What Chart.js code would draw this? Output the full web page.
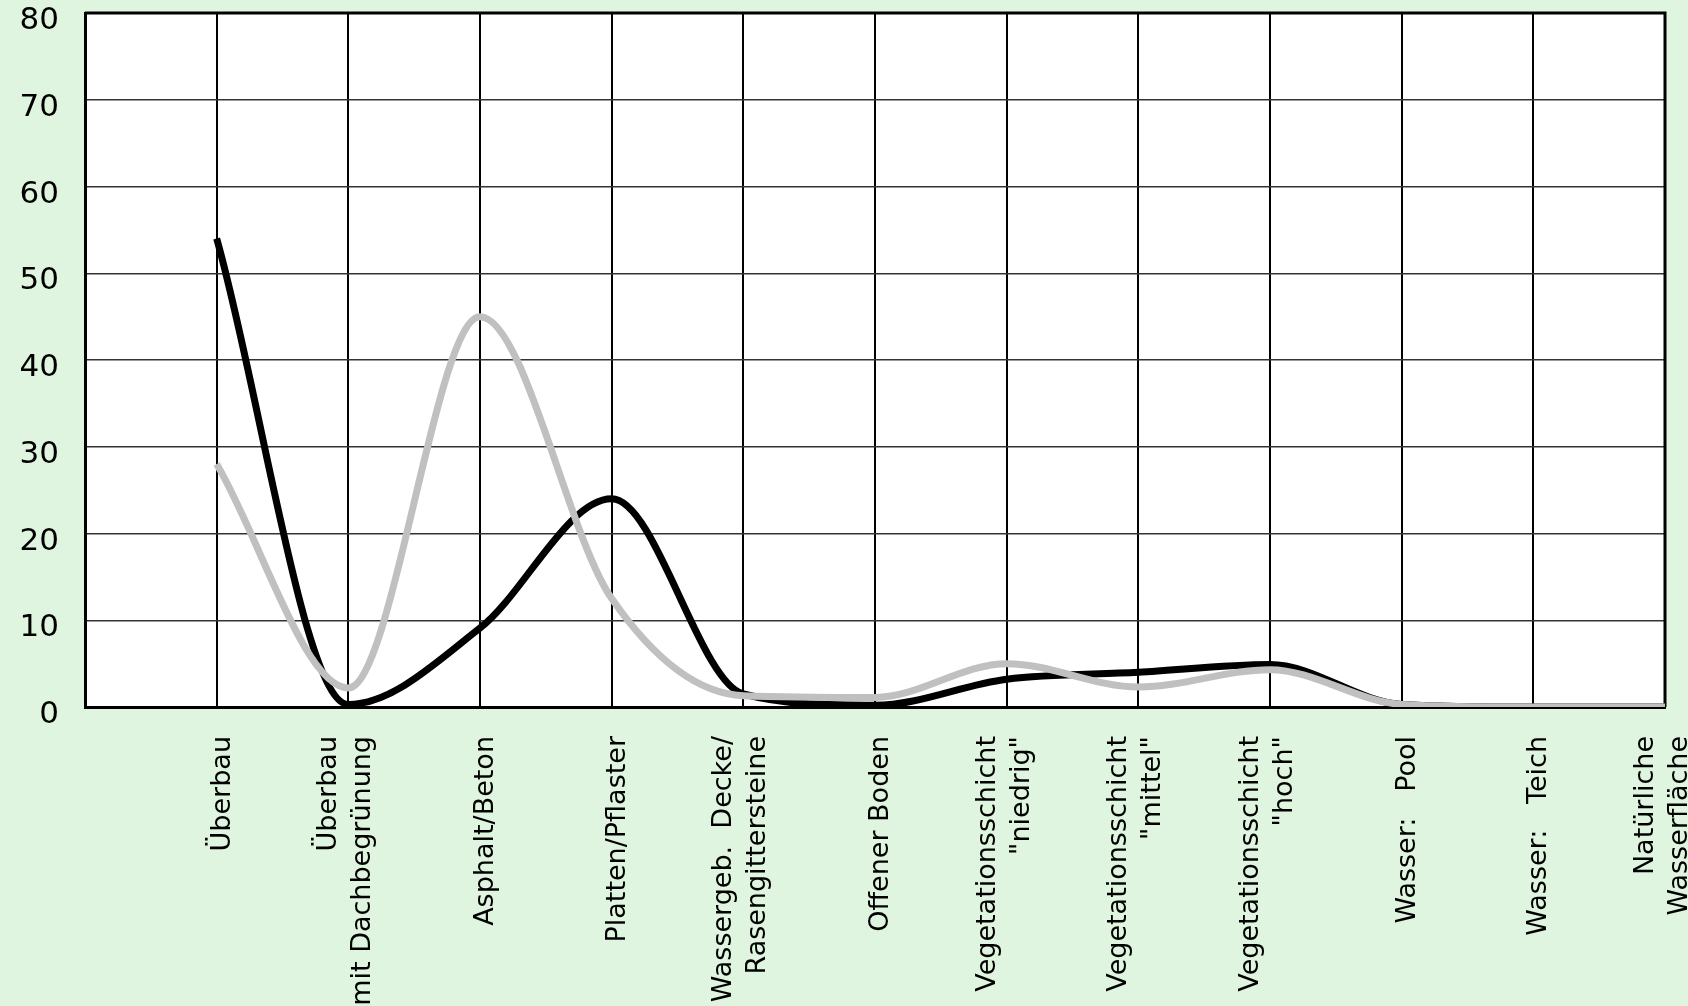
<!DOCTYPE html>
<html>
<head>
<meta charset="utf-8">
<script src="https://cdn.jsdelivr.net/npm/chart.js@4.4.0/dist/chart.umd.min.js"></script>
<style>
  html, body { margin: 0; padding: 0; background: #dff5df; }
  #wrap { width: 1688px; height: 1006px; position: relative; }
</style>
</head>
<body>
<div id="wrap"><canvas id="chart"></canvas></div>
<script>
// categories (first slot is empty: it sits on the left border)
const categories = [
  "",
  "Überbau",
  ["Überbau", "mit Dachbegrünung"],
  "Asphalt/Beton",
  "Platten/Pflaster",
  ["Wassergeb.  Decke/", "Rasengittersteine"],
  "Offener Boden",
  ["Vegetationsschicht", "\"niedrig\""],
  ["Vegetationsschicht", "\"mittel\""],
  ["Vegetationsschicht", "\"hoch\""],
  "Wasser:   Pool",
  "Wasser:   Teich",
  ["Natürliche", "Wasserfläche"]
];

// series values
const blackValues = [null, 54, 0.3, 9.1, 24, 1.5, 0.2, 3.2, 4.0, 4.9, 0.3, 0, 0];
const greyValues  = [null, 28, 2.2, 45, 12.5, 1.3, 1.1, 5.0, 2.3, 4.3, 0.3, 0, 0];

// y axis
const yMin = 0;
const yMax = 80;
const yStep = 10;

// white plot area + frame on top and right
const plotFrame = {
  id: "plotFrame",
  beforeDraw(chart) {
    const { ctx, chartArea: a } = chart;
    ctx.save();
    ctx.fillStyle = "#ffffff";
    ctx.fillRect(a.left, a.top, a.right - a.left, a.bottom - a.top);
    ctx.restore();
    // centre two-line labels on their tick, nudge single ones a bit right
    const items = chart.scales.x.getLabelItems(a);
    items.forEach((item) => {
      if (item._moved) return;
      const lines = Array.isArray(item.label) ? item.label.length : 1;
      const lh = item.font.lineHeight;
      item.options.translation[0] += lines > 1 ? -lh / 2 - 2 : 6;
      item._moved = true;
    });
  },
  beforeDatasetsDraw(chart) {
    const { ctx, chartArea: a } = chart;
    ctx.save();
    ctx.strokeStyle = "#000";
    ctx.lineWidth = 3;
    ctx.beginPath();
    ctx.moveTo(a.left, a.top);
    ctx.lineTo(a.right, a.top);
    ctx.lineTo(a.right, a.bottom);
    ctx.stroke();
    ctx.restore();
  }
};

const ctx = document.getElementById("chart").getContext("2d");

new Chart(ctx, {
  type: "line",
  data: {
    labels: categories,
    datasets: [
      {
        data: greyValues,
        borderColor: "#c0c0c0",
        borderWidth: 7,
        pointRadius: 0,
        cubicInterpolationMode: "monotone",
        fill: false
      },
      {
        data: blackValues,
        borderColor: "#000000",
        borderWidth: 7,
        pointRadius: 0,
        cubicInterpolationMode: "monotone",
        fill: false
      }
    ]
  },
  options: {
    responsive: true,
    maintainAspectRatio: false,
    animation: false,
    devicePixelRatio: 1,
    layout: { padding: { top: 13, right: 23, left: 0, bottom: 0 } },
    elements: { line: { capBezierPoints: false } },
    plugins: {
      legend: { display: false },
      tooltip: { enabled: false }
    },
    scales: {
      x: {
        offset: false,
        grid: { color: "#000", lineWidth: 2, drawTicks: false },
        border: { color: "#000", width: 3 },
        ticks: {
          autoSkip: false,
          minRotation: 90,
          maxRotation: 90,
          padding: 29,
          color: "#000",
          font: { family: "DejaVu Sans", size: 27, lineHeight: 1.25 }
        },
        afterFit(scale) {
          scale.height = 299;
          scale.paddingLeft = 0;
          scale.paddingRight = 0;
        }
      },
      y: {
        min: yMin,
        max: yMax,
        grid: { color: "#333", lineWidth: 1.5, drawTicks: false },
        border: { color: "#000", width: 3 },
        ticks: {
          stepSize: yStep,
          padding: 26,
          labelOffset: 8,
          color: "#000",
          font: { family: "DejaVu Sans", size: 31 }
        },
        afterFit(scale) {
          scale.width = 85;
          scale.paddingTop = 0;
          scale.paddingBottom = 0;
        }
      }
    }
  },
  plugins: [plotFrame]
});
</script>
</body>
</html>
